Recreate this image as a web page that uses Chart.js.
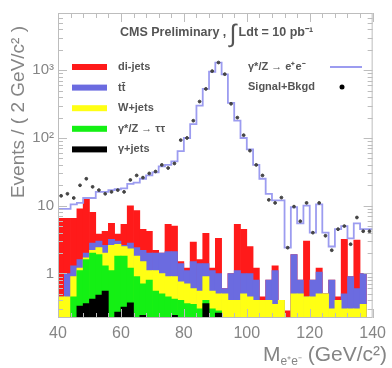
<!DOCTYPE html>
<html>
<head>
<meta charset="utf-8">
<script src="https://cdn.jsdelivr.net/npm/chart.js@4.4.0/dist/chart.umd.min.js"></script>
<style>
  html, body { margin: 0; padding: 0; background: #fff; }
  #wrap { width: 392px; height: 368px; }
</style>
</head>
<body>
<div id="wrap"><canvas id="chart"></canvas></div>
<script>
// bin centres of the 2 GeV bins, 40..140 GeV
const binCenters = [41, 43, 45, 47, 49, 51, 53, 55, 57, 59,
                    61, 63, 65, 67, 69, 71, 73, 75, 77, 79,
                    81, 83, 85, 87, 89, 91, 93, 95, 97, 99,
                    101, 103, 105, 107, 109, 111, 113, 115, 117, 119,
                    121, 123, 125, 127, 129, 131, 133, 135, 137, 139];

// top edge of each layer of the stacked background (cumulative)
const topDiJets = [6.5, 6.5, 6.5, 9, 12.5, 8, 3.8, 4.2, 5.5, 3.8,
                   5.3, 10, 8.5, 4.5, 4.2, 2.2, 2.0, 5.3, 5.0, 1.5,
                   1.2, 2.9, 1.6, 3.9, 1.2, 3.3, 0.6, 1.0, 5.3, 4.5,
                   2.5, 1.2, 0.45, 0.8, 1.3, 0.4, 0.28, 1.9, 0.8, 3.0,
                   0.8, 1.2, 0.5, 0.8, 0.45, 3.2, 0.9, 3.1, 1.0, null];
const topTTbar = [0.45, 1.0, 1.3, 1.6, 2.0, 2.8, 3.0, 2.6, 3.2, 3.0,
                  2.6, 2.8, 2.4, 2.2, 2.0, 2.0, 2.0, 2.1, 2.1, 1.4,
                  1.1, 1.5, 1.4, 1.4, 1.1, 1.0, 0.6, 1.0, 1.1, 1.0,
                  1.0, 0.8, 0.4, 0.8, 1.1, 0.4, null, 1.9, 0.8, 0.45,
                  0.8, 1.05, 0.5, 0.8, 0.4, 0.5, 0.9, 0.6, 1.0, null];
const topWJets = [0.45, 0.45, 0.9, 1.2, 1.7, 2.2, 2.4, 2.0, 2.6, 2.7,
                  2.5, 2.3, 1.8, 1.5, 1.1, 1.1, 1.0, 0.9, 0.9, 0.75,
                  0.7, 0.6, 0.55, 0.9, 0.55, 0.5, 0.5, 0.4, 0.4, 0.5,
                  0.45, 0.4, 0.4, 0.4, 0.35, 0.4, null, 0.5, 0.5, 0.45,
                  0.45, 0.5, 0.5, 0.3, 0.4, 0.3, 0.3, 0.3, 0.35, null];
const topZTauTau = [null, null, 0.45, 1.1, 1.6, 2.0, 1.9, 1.3, 1.1, 1.8,
                    1.8, 1.2, 0.9, 0.7, 0.8, 0.55, 0.5, 0.45, 0.42, 0.4,
                    0.36, 0.35, 0.3, 0.4, 0.3, 0.28, null, null, null, null,
                    null, null, null, null, null, null, null, null, null, null,
                    null, null, null, null, null, null, null, null, null, null];
const topGammaJets = [null, null, null, 0.33, 0.36, 0.42, 0.48, 0.55, null, 0.27,
                      0.32, 0.37, null, 0.24, null, null, null, null, 0.24, null,
                      null, null, null, 0.36, null, 0.26, null, null, null, null,
                      null, null, null, null, null, null, null, null, null, null,
                      null, null, null, null, null, null, null, null, null, null];

// signal (gamma*/Z -> ee) + background, and the data
const signalPlusBkgd = [9, 9, 10.5, 11, 13, 13, 16, 16, 17, 17.5,
                        18, 21, 22, 25, 28, 31, 38, 40, 45, 64,
                        100, 160, 300, 530, 950, 1300, 870, 330, 180, 100,
                        68, 40, 25, 15, 12, 12, 2.4, 9.5, 5.5, 10,
                        4, 10.5, 4, 2.5, 4.5, 5, 3.3, 5.5, 4.5, 4.5];
const dataEvents = [14, 15, 13, 20, 25, 19, 17, 15, 16, 17,
                    16, 24, 28, 26, 30, 32, 40, 36, 42, 93,
                    100, 180, 345, 530, 970, 1300, 875, 320, 200, 110,
                    65, 40, 28, 12.2, 11, 13.2, 2.4, 9.7, 5.9, 11,
                    4, 11, 3.6, 2.2, 4.5, 5, 2.7, 6.7, 4.2, 4.2];

const xTicks = [40, 60, 80, 100, 120, 140];
const yTickValues = [1, 10, 100, 1000];
const yTickLabels = ['1', '10', '10\u00b2', '10\u00b3'];

const colors = {
  dijets: '#ff1a1a',
  ttbar: '#6b6be0',
  wjets: '#ffff14',
  ztautau: '#14f014',
  gammajets: '#000000',
  signal: '#9c9cf0',
  text: '#555555',
  axis: '#858585'
};

const FONT = '"Liberation Sans", Arial, sans-serif';

function pts(values) {
  return binCenters.map((x, i) => ({ x: x, y: values[i] }));
}

// histogram outline also covers the outer half of the first and last bins
const stepPts = [{ x: 40, y: signalPlusBkgd[0] }]
  .concat(pts(signalPlusBkgd))
  .concat([{ x: 140, y: signalPlusBkgd[signalPlusBkgd.length - 1] }]);

function barSet(label, values, color) {
  return {
    label: label,
    data: pts(values),
    backgroundColor: color,
    borderWidth: 0,
    grouped: false,
    barPercentage: 1,
    categoryPercentage: 1
  };
}

const legendRows = [
  { label: 'di-jets', color: colors.dijets },
  { label: 't\u0074\u0304', color: colors.ttbar },
  { label: 'W+jets', color: colors.wjets },
  { label: '\u03b3*/Z \u2192 \u03c4\u03c4', color: colors.ztautau },
  { label: '\u03b3+jets', color: colors.gammajets }
];

const decorPlugin = {
  id: 'decor',
  afterDraw(chart) {
    const ctx = chart.ctx;
    const a = chart.chartArea;
    const xs = chart.scales.x;
    const ys = chart.scales.y;
    ctx.save();

    // frame and inward ticks
    ctx.strokeStyle = '#bdbdbd';
    ctx.lineWidth = 1;
    ctx.strokeRect(a.left + 0.5, a.top + 0.5, a.right - a.left - 1, a.bottom - a.top - 1);
    ctx.beginPath();
    for (let v = 40; v <= 140; v += 4) {
      const px = Math.round(xs.getPixelForValue(v)) + 0.5;
      const len = (v % 20 === 0) ? 9 : 5;
      ctx.moveTo(px, a.bottom); ctx.lineTo(px, a.bottom - len);
      ctx.moveTo(px, a.top); ctx.lineTo(px, a.top + len);
    }
    for (let d = 0.1; d < 10000; d *= 10) {
      for (let m = 1; m < 10; m++) {
        const v = d * m;
        if (v < ys.min || v > ys.max) continue;
        const py = Math.round(ys.getPixelForValue(v)) + 0.5;
        const len = (m === 1) ? 9 : 5;
        ctx.moveTo(a.left, py); ctx.lineTo(a.left + len, py);
        ctx.moveTo(a.right, py); ctx.lineTo(a.right - len, py);
      }
    }
    ctx.stroke();

    // title
    ctx.fillStyle = colors.text;
    ctx.textBaseline = 'alphabetic';
    ctx.textAlign = 'left';
    let x = 120;
    ctx.font = 'bold 12.5px ' + FONT;
    const t1 = 'CMS Preliminary , ';
    ctx.fillText(t1, x, 36);
    x += ctx.measureText(t1).width;
    ctx.font = '25px ' + FONT;
    ctx.fillText('\u222b', x, 42);
    x += ctx.measureText('\u222b').width + 2;
    ctx.font = 'bold 12.5px ' + FONT;
    ctx.fillText('Ldt = 10 pb\u207b\u00b9', x, 36);

    // legend, left column
    ctx.textBaseline = 'middle';
    legendRows.forEach((row, i) => {
      const y = 67 + i * 20.6;
      ctx.fillStyle = row.color;
      ctx.fillRect(72, y - 3, 35, 6);
      ctx.fillStyle = colors.text;
      ctx.font = 'bold 11px ' + FONT;
      ctx.fillText(row.label, 118, y);
    });

    // legend, right column
    ctx.fillText('\u03b3*/Z \u2192 e\u207ae\u207b', 248, 67);
    ctx.fillText('Signal+Bkgd', 248, 87);
    ctx.strokeStyle = colors.signal;
    ctx.lineWidth = 2;
    ctx.beginPath();
    ctx.moveTo(330, 67); ctx.lineTo(362, 67);
    ctx.stroke();
    ctx.fillStyle = '#000';
    ctx.beginPath();
    ctx.arc(342, 87, 2.5, 0, Math.PI * 2);
    ctx.fill();

    // axis titles
    ctx.fillStyle = colors.axis;
    ctx.font = '19px ' + FONT;
    ctx.save();
    ctx.translate(19, 112);
    ctx.rotate(-Math.PI / 2);
    ctx.textAlign = 'center';
    ctx.fillText('Events / ( 2 GeV/c\u00b2 )', 0, 0);
    ctx.restore();

    ctx.textBaseline = 'alphabetic';
    ctx.textAlign = 'left';
    const mPart = 'M', subPart = 'e\u207ae\u207b', unitPart = ' (GeV/c\u00b2)';
    ctx.font = '21px ' + FONT;
    const wM = ctx.measureText(mPart).width;
    const wU = ctx.measureText(unitPart).width;
    ctx.font = '12px ' + FONT;
    const wS = ctx.measureText(subPart).width;
    let tx = 387 - (wM + wS + wU);
    ctx.font = '21px ' + FONT;
    ctx.fillText(mPart, tx, 361);
    tx += wM;
    ctx.font = '12px ' + FONT;
    ctx.fillText(subPart, tx, 365);
    tx += wS;
    ctx.font = '21px ' + FONT;
    ctx.fillText(unitPart, tx, 361);

    ctx.restore();
  }
};

new Chart(document.getElementById('chart'), {
  type: 'bar',
  data: {
    datasets: [
      barSet('\u03b3+jets', topGammaJets, colors.gammajets),
      barSet('\u03b3*/Z \u2192 \u03c4\u03c4', topZTauTau, colors.ztautau),
      barSet('W+jets', topWJets, colors.wjets),
      barSet('tt', topTTbar, colors.ttbar),
      barSet('di-jets', topDiJets, colors.dijets),
      {
        type: 'line',
        label: 'Signal+Bkgd MC',
        data: stepPts,
        stepped: 'middle',
        borderColor: colors.signal,
        borderWidth: 1.8,
        pointRadius: 0,
        fill: false,
        order: -1
      },
      {
        type: 'scatter',
        label: 'Data',
        data: pts(dataEvents),
        backgroundColor: '#444',
        borderColor: '#444',
        pointRadius: 1.4,
        order: -2
      }
    ]
  },
  options: {
    responsive: true,
    maintainAspectRatio: false,
    animation: false,
    layout: { padding: { top: 8, right: 12, left: 0, bottom: 0 } },
    plugins: { legend: { display: false }, tooltip: { enabled: false } },
    scales: {
      x: {
        type: 'linear',
        min: 40,
        max: 140,
        offset: false,
        grid: { display: false, drawTicks: false },
        border: { display: false },
        afterBuildTicks: (s) => { s.ticks = xTicks.map(v => ({ value: v })); },
        afterFit: (s) => { s.height = 50; },
        ticks: {
          color: colors.axis,
          font: { family: FONT, size: 16 },
          padding: 6,
          maxRotation: 0,
          autoSkip: false
        }
      },
      y: {
        type: 'logarithmic',
        min: 0.22,
        max: 7000,
        grid: { display: false, drawTicks: false },
        border: { display: false },
        afterBuildTicks: (s) => { s.ticks = yTickValues.map(v => ({ value: v })); },
        afterFit: (s) => { s.width = 58; },
        ticks: {
          color: colors.axis,
          font: { family: FONT, size: 15 },
          padding: 4,
          autoSkip: false,
          callback: (value, index) => yTickLabels[index]
        }
      }
    }
  },
  plugins: [decorPlugin]
});
</script>
</body>
</html>
